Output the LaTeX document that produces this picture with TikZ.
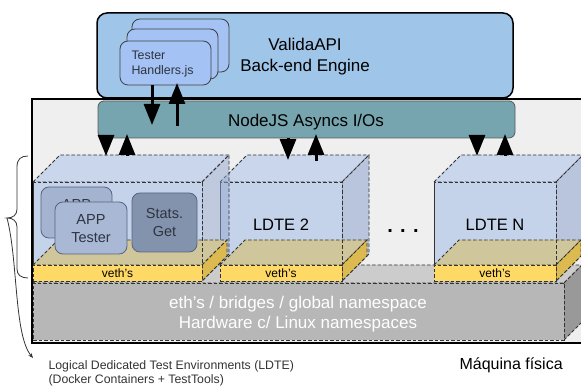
\documentclass[tikz,border=0pt]{standalone}
\usepackage{fontspec}
\setmainfont{Liberation Sans}
\usetikzlibrary{arrows.meta}
\definecolor{bgm}{HTML}{EFEFEF}
\definecolor{valida}{HTML}{9FC5E8}
\definecolor{testerc}{HTML}{A4C2F4}
\definecolor{nodejsc}{HTML}{76A5AF}
\definecolor{cubefront}{HTML}{C5D3EA}
\definecolor{cubetop}{HTML}{C9D6EB}
\definecolor{cuberight}{HTML}{B8C5DD}
\definecolor{cuberightA}{HTML}{93A7D1}
\definecolor{vethtop}{HTML}{CFC79B}
\definecolor{vethside}{HTML}{DCBA4F}
\definecolor{vethfront}{HTML}{FFD966}
\definecolor{basefront}{HTML}{B7B7B7}
\definecolor{basetop}{HTML}{CCCCCC}
\definecolor{baseside}{HTML}{999999}
\definecolor{appback}{HTML}{A3B3D0}
\definecolor{appfront}{HTML}{A8B8D5}
\definecolor{statsc}{HTML}{8393AE}
\definecolor{cardline}{HTML}{56657F}
\definecolor{dashc}{HTML}{333333}
\definecolor{txtc}{HTML}{2E3440}
\definecolor{notec}{HTML}{333333}

\newcommand\ldtecube[4]{%
  \filldraw[dashedge, fill=cubetop] (#1,182) -- ({#1+27},155) -- ({#2+27},155) -- (#2,182) -- cycle;
  \filldraw[dashedge, #4] (#2,182) -- ({#2+27},155) -- ({#2+27},254) -- (#2,281) -- cycle;
  \node[dashedge, fill=cubefront, box, minimum width={(#2-#1)*1pt}, minimum height=99pt] (#3) at (#1,182) {};
  \filldraw[dashedge, fill=vethtop] (#1,265) -- ({#1+25},240) -- ({#2+25},240) -- (#2,265) -- cycle;
  \filldraw[dashedge, fill=vethside] (#2,265) -- ({#2+25},240) -- ({#2+25},256) -- (#2,281) -- cycle;
  \draw[dashedge] (#3.north west) rectangle (#3.south east);
  \node[dashedge, fill=vethfront, box, minimum width={(#2-#1)*1pt}, minimum height=16pt] (#3veth) at (#1,265) {};
  \node[font=\fontsize{12}{12}\selectfont] (#3vethtxt) at ({(#1+#2)/2},273.5) {veth’s};
}

\begin{document}
\begin{tikzpicture}[x=1pt,y=-1pt,
  box/.style={anchor=north west, inner sep=0pt, outer sep=0pt},
  dashedge/.style={draw=dashc, dash pattern=on 3.5pt off 2pt, line width=0.8pt},
  card/.style={box, draw=cardline, line width=0.8pt, rounded corners=8pt},
  cardtxt/.style={text=txtc, align=center, font=\fontsize{14.5}{18}\selectfont},
  testercard/.style={box, draw=black!75, line width=0.8pt, fill=testerc, rounded corners=8pt},
  bigarrow/.style={line width=3pt, -{Triangle[width=16pt,length=21pt]}},
  bigtxt/.style={font=\fontsize{17}{21}\selectfont, align=center}
]
\useasboundingbox (0,0) rectangle (581,387);
\clip (0,0) rectangle (581,387);

% physical machine
\node[box, draw=black, line width=2.5pt, fill=bgm, minimum width=580pt, minimum height=244pt] (machine) at (32,99) {};

% hardware base
\filldraw[dashedge, fill=basetop] (33,283) -- (51,265) -- (582,265) -- (564,283) -- cycle;
\filldraw[dashedge, fill=baseside] (564,283) -- (582,265) -- (582,322) -- (564,340) -- cycle;
\node[box, dashedge, fill=basefront, minimum width=531pt, minimum height=57pt] (base) at (33,283) {};
\node[bigtxt, text=white] (basetxt) at (298,314) {eth’s / bridges / global namespace\\[-1pt]Hardware c/ Linux namespaces};

% LDTE cubes
\ldtecube{434}{556}{ldteN}{fill=cuberight}
\ldtecube{220}{342}{ldteB}{fill=cuberight}
\ldtecube{33}{202}{ldteA}{fill=cuberightA, fill opacity=0.5}

\node[font=\fontsize{16.5}{16.5}\selectfont] (ldteBlbl) at (281,224.5) {LDTE 2};
\node[font=\fontsize{16.5}{16.5}\selectfont] (ldteNlbl) at (495,224.5) {LDTE N};
\node[font=\fontsize{20}{20}\selectfont\bfseries] (dots) at (403,231) {. . .};

% cards in LDTE 1
\node[card, fill=appback, minimum width=71pt, minimum height=51pt] (appback) at (41,187) {};
\node[cardtxt] (appbacktxt) at (76.5,204.5) {APP};
\node[card, fill=appfront, minimum width=72pt, minimum height=52pt] (app) at (55,202) {};
\node[cardtxt] (apptxt) at (91,228.5) {APP\\Tester};
\node[card, fill=statsc, minimum width=65pt, minimum height=59pt] (stats) at (132,193) {};
\node[cardtxt] (statstxt) at (164.5,223) {Stats.\\Get};

% NodeJS layer
\node[box, draw=black!65, line width=0.8pt, fill=nodejsc, rounded corners=6pt, minimum width=417pt, minimum height=37pt] (nodejs) at (98,101) {};
\node[bigtxt] (nodejstxt) at (306,122.5) {NodeJS Asyncs I/Os};

% ValidaAPI engine
\node[box, draw=black, line width=1.5pt, fill=valida, rounded corners=10pt, minimum width=416pt, minimum height=85pt] (valida) at (97,13) {};
\node[bigtxt] (validatxt) at (305,57) {ValidaAPI\\Back-end Engine};
\node[testercard, minimum width=97pt, minimum height=53pt] (tester3) at (132,19) {};
\node[testercard, minimum width=91pt, minimum height=50pt] (tester2) at (127,29) {};
\node[testercard, minimum width=91pt, minimum height=44pt] (tester) at (120,41) {};
\node[anchor=west, align=left, font=\fontsize{12.4}{15}\selectfont, text=txtc] (testertxt) at (128,64) {Tester\\Handlers.js};

% arrows
\coordinate (ta) at (152,85);  \coordinate (tb) at (152,125);
\coordinate (tc) at (177,126); \coordinate (td) at (177,83);
\coordinate (a1) at (106,138); \coordinate (a2) at (106,156);
\coordinate (a3) at (127,156); \coordinate (a4) at (127,134);
\coordinate (b1) at (288,138); \coordinate (b2) at (288,160);
\coordinate (b3) at (316,161); \coordinate (b4) at (316,134);
\coordinate (n1) at (477,138); \coordinate (n2) at (477,156);
\coordinate (n3) at (505,156); \coordinate (n4) at (505,134);
\draw[bigarrow] (ta) -- (tb);
\draw[bigarrow] (tc) -- (td);
\draw[bigarrow] (a1) -- (a2);
\draw[bigarrow] (a3) -- (a4);
\draw[bigarrow] (b1) -- (b2);
\draw[bigarrow] (b3) -- (b4);
\draw[bigarrow] (n1) -- (n2);
\draw[bigarrow] (n3) -- (n4);

% brace and note
\coordinate (bracetip) at (7,218);
\coordinate (notept) at (33,358);
\draw[line width=0.8pt, black!80] (28,156) .. controls (21,156) and (17,159) .. (17,167) -- (17,209)
  .. controls (17,215) and (13,218) .. (bracetip) .. controls (13,218) and (17,221) .. (17,227) -- (17,269)
  .. controls (17,275) and (21,278) .. (28,278);
\draw[line width=0.8pt, black!80, -{Stealth[length=5pt,width=4pt]}] (bracetip) .. controls (18,260) and (14,335) .. (notept);
\node[anchor=base west, font=\fontsize{12.3}{15}\selectfont, text=notec] (note1) at (45,369) {Logical Dedicated Test Environments (LDTE)};
\node[anchor=base west, font=\fontsize{12.3}{15}\selectfont, text=notec] (note2) at (45,383) {(Docker Containers + TestTools)};
\node[anchor=base west, font=\fontsize{16}{16}\selectfont] (maquina) at (456,369) {Máquina física};
\end{tikzpicture}
\end{document}
